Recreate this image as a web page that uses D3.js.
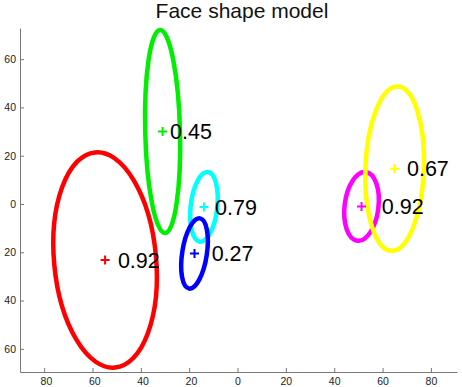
<!DOCTYPE html>
<html>
<head>
<meta charset="utf-8">
<script src="https://cdn.jsdelivr.net/npm/d3@7"></script>
<style>
  body { margin: 0; background: #fff; }
  svg { font-family: "Liberation Sans", Arial, Helvetica, sans-serif; }
</style>
</head>
<body>
<div id="chart"></div>
<script>
// Mixture components (data units)
const names   = ["red", "green", "cyan", "blue", "magenta", "yellow"];
const centerX = [-54.8, -31.0, -13.9, -17.8, 51.3, 65.0];
const centerY = [-23.2, 30.0, -1.2, -20.5, -1.0, 14.6];
const semiMajor = [44.7, 42.0, 14.5, 14.7, 14.3, 34.0];
const semiMinor = [21.1, 7.2, 5.5, 5.1, 7.0, 12.1];
const tiltDeg = [-5.3, -1.4, 6.5, 8.8, 7.0, 2.2];   // from vertical, + = top leans right
const weights = ["0.92", "0.45", "0.79", "0.27", "0.92", "0.67"];
const labelX  = [-49.5, -27.9, -9.3, -10.7, 59.7, 70.1];
const colors  = ["#ff0000", "#00ee00", "#00ffff", "#0000ff", "#ff00ff", "#ffff00"];

const xTicks = [-80, -60, -40, -20, 0, 20, 40, 60, 80];
const yTicks = [-60, -40, -20, 0, 20, 40, 60];

const W = 462, H = 387;
const svg = d3.select("#chart").append("svg")
    .attr("width", W).attr("height", H);

const x = d3.scaleLinear().domain([-90, 90.8]).range([20, 457]);
const y = d3.scaleLinear().domain([-69.6, 72.9]).range([372, 28]);
const k = x(1) - x(0);

// title
svg.append("text")
    .attr("x", 242).attr("y", 18)
    .attr("text-anchor", "middle")
    .attr("font-size", 21)
    .attr("fill", "#111")
    .text("Face shape model");

// axes, ticks pointing inward; negative labels drop the minus but keep its spacing
function absLabels(g) {
  g.selectAll(".tick text").each(function(d) {
    const t = d3.select(this).text("");
    if (d < 0) t.append("tspan").attr("fill-opacity", 0).text("-");
    t.append("tspan").text(Math.abs(d));
  });
}

const xAxis = svg.append("g")
    .attr("transform", `translate(0,${y.range()[0]})`)
    .call(d3.axisBottom(x).tickValues(xTicks).tickSizeInner(-4).tickSizeOuter(0).tickPadding(6))
    .call(absLabels);

const yAxis = svg.append("g")
    .attr("transform", `translate(${x.range()[0]},0)`)
    .call(d3.axisLeft(y).tickValues(yTicks).tickSizeInner(-4).tickSizeOuter(0).tickPadding(4))
    .call(g => g.selectAll(".tick text").text(d => Math.abs(d)));

[xAxis, yAxis].forEach(g => {
  g.select(".domain").attr("stroke", "#777");
  g.selectAll(".tick line").attr("stroke", "#777");
  g.selectAll(".tick text").attr("font-size", 10.5).attr("fill", "#222")
    .attr("font-family", "'Liberation Sans', Arial, sans-serif");
});

const comps = names.map((n, i) => ({
  name: n, cx: centerX[i], cy: centerY[i], a: semiMajor[i], b: semiMinor[i],
  tilt: tiltDeg[i], w: weights[i], lx: labelX[i], color: colors[i]
}));

// ellipses
svg.selectAll(".ell")
    .data(comps)
    .enter()
    .append("ellipse")
    .attr("class", "ell")
    .attr("cx", d => x(d.cx))
    .attr("cy", d => y(d.cy))
    .attr("rx", d => d.b * k)
    .attr("ry", d => d.a * k)
    .attr("transform", d => `rotate(${d.tilt},${x(d.cx)},${y(d.cy)})`)
    .attr("fill", "none")
    .attr("stroke", d => d.color)
    .attr("stroke-width", 4.5);

// centre markers
const cross = svg.selectAll(".cross")
    .data(comps)
    .enter()
    .append("path")
    .attr("class", "cross")
    .attr("d", d => {
      const px = x(d.cx), py = y(d.cy), s = 4.5;
      return `M${px - s},${py}H${px + s}M${px},${py - s}V${py + s}`;
    })
    .attr("stroke", d => d.color)
    .attr("stroke-width", 2);

// weight labels
svg.selectAll(".wlabel")
    .data(comps)
    .enter()
    .append("text")
    .attr("class", "wlabel")
    .attr("x", d => x(d.lx))
    .attr("y", d => y(d.cy))
    .attr("dy", "0.36em")
    .attr("font-size", 21.5)
    .attr("fill", "#000")
    .text(d => d.w);
</script>
</body>
</html>
